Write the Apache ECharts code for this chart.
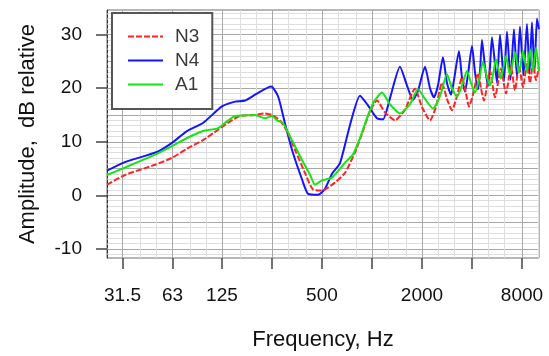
<!DOCTYPE html>
<html>
<head>
<meta charset="utf-8">
<script src="https://cdn.jsdelivr.net/npm/echarts@6/dist/echarts.min.js"></script>
<style>
  html, body { margin: 0; padding: 0; background: #fff; }
  #chart { width: 549px; height: 356px; }
</style>
</head>
<body>
<div id="chart"></div>
<script>
// frequency (Hz) and amplitude (dB relative)
const freqN3 = [25.4, 32.6, 49.4, 62.5, 77, 96, 118, 140, 160, 197, 227, 250, 279, 308, 344, 395, 441, 500, 599, 688, 790, 871, 973, 1072, 1197, 1375, 1580, 1815, 2000, 2235, 2428, 2639, 2828, 3031, 3249, 3482, 3681, 3837, 4112, 4347, 4531, 4724, 5134, 5502, 5979, 6409, 6869, 7260, 7674, 8112, 8574, 8938, 9318, 9714, 10126];
const ampN3 = [2.0, 3.8, 5.7, 7.0, 8.7, 10.3, 12.2, 13.8, 14.8, 15.0, 15.3, 15.0, 14.0, 12.0, 8.5, 4.2, 1.1, 0.9, 2.4, 4.2, 8.0, 11.5, 15.7, 17.7, 15.5, 14.0, 16.0, 19.9, 16.5, 14.0, 16.5, 21.0, 18.0, 15.9, 18.5, 22.0, 19.0, 16.6, 19.5, 22.8, 20.0, 17.7, 23.2, 18.3, 23.6, 19.0, 24.0, 19.6, 24.2, 20.2, 24.5, 21.0, 24.7, 21.5, 24.0];

const freqN4 = [25.4, 32.6, 50.8, 62.5, 77, 96, 125, 150, 172, 203, 247, 272, 299, 330, 379, 412, 473, 521, 574, 642, 737, 847, 946, 1072, 1165, 1283, 1474, 1625, 1765, 1892, 2085, 2235, 2362, 2497, 2676, 2828, 2990, 3117, 3340, 3482, 3630, 3784, 4000, 4170, 4347, 4469, 4595, 4790, 4993, 5134, 5278, 5502, 5657, 5897, 6233, 6498, 6821, 7160, 7464, 7781, 8168, 8574, 8877, 9190, 9514, 9849, 10126];
const ampN4 = [4.6, 6.2, 8.1, 9.8, 12.0, 13.5, 16.6, 17.5, 17.7, 19.0, 20.3, 18.5, 13.5, 8.5, 3.0, 0.3, 0.1, 1.2, 4.0, 6.0, 13.1, 18.6, 16.8, 14.4, 14.2, 18.1, 24.0, 20.5, 17.8, 19.5, 24.0, 20.0, 18.3, 20.5, 25.8, 21.0, 18.8, 21.5, 26.9, 22.0, 19.4, 22.5, 27.9, 23.0, 19.8, 23.0, 29.0, 24.0, 20.4, 24.0, 29.5, 24.5, 21.0, 30.0, 21.3, 30.6, 21.6, 31.0, 22.0, 31.5, 22.4, 32.0, 22.7, 32.3, 23.0, 33.0, 31.0];

const freqA1 = [25.4, 32.6, 49.4, 62.5, 77, 96, 118, 130, 150, 172, 197, 227, 250, 268, 291, 330, 379, 423, 454, 500, 574, 688, 768, 847, 933, 1028, 1149, 1283, 1474, 1693, 1892, 2085, 2329, 2567, 2828, 3031, 3249, 3482, 3732, 3945, 4170, 4408, 4659, 4925, 5134, 5352, 5579, 5816, 5979, 6409, 6774, 7260, 7674, 8112, 8574, 8938, 9318, 9714, 10126];
const ampA1 = [3.8, 5.2, 7.6, 9.2, 10.7, 12.0, 12.5, 13.5, 14.8, 14.9, 15.0, 14.4, 14.8, 14.0, 13.5, 10.3, 6.6, 3.9, 2.0, 2.8, 3.3, 6.1, 7.6, 10.7, 14.4, 17.5, 19.2, 17.0, 15.3, 17.0, 19.8, 18.0, 16.2, 18.5, 22.6, 20.0, 18.4, 20.5, 23.2, 21.0, 19.2, 21.5, 24.9, 22.0, 20.5, 22.5, 25.4, 23.0, 21.8, 26.0, 22.5, 26.7, 22.8, 27.0, 23.0, 27.3, 23.2, 27.6, 23.2];

// axis ticks
const xTickFreqs = [31.5, 63, 125, 250, 500, 1000, 2000, 4000, 8000];
const xLabelFreqs = [31.5, 63, 125, 500, 2000, 8000];
const xThirdOctaves = [31.5, 40, 50, 63, 80, 100, 125, 160, 200, 250, 315, 400, 500, 630, 800, 1000, 1250, 1600, 2000, 2500, 3150, 4000, 5000, 6300, 8000, 10000];
const yTicks = [-10, 0, 10, 20, 30];
const yFives = [-10, -5, 0, 5, 10, 15, 20, 25, 30];
const yOnes = [];
for (let v = -11; v <= 34; v++) yOnes.push(v);

const xMin = Math.log2(25.4);
const xMax = Math.log2(10130);
const yMin = -11.7;
const yMax = 34.6;

const font = "Liberation Sans";
const colN3 = "#ff2424";
const colN4 = "#1414ff";
const colA1 = "#14e614";
const toPts = (fs, as) => fs.map((f, i) => [Math.log2(f), as[i]]);

const hiddenX = (values, color) => ({
  type: "value", min: xMin, max: xMax, position: "bottom",
  axisLine: { show: false, onZero: false },
  axisTick: { show: false, customValues: values.map(Math.log2) },
  axisLabel: { show: false },
  splitLine: { show: true, lineStyle: { color: color, width: 1 } },
});
const hiddenY = (values, color) => ({
  type: "value", min: yMin, max: yMax, position: "left",
  axisLine: { show: false, onZero: false },
  axisTick: { show: false, customValues: values },
  axisLabel: { show: false },
  splitLine: { show: true, lineStyle: { color: color, width: 1 } },
});

const chart = echarts.init(document.getElementById("chart"), null, { renderer: "canvas" });

const option = {
  animation: false,
  backgroundColor: "#fff",
  grid: {
    left: 107, right: 10, top: 10, bottom: 95,
    show: true, borderColor: "#6e6e6e", borderWidth: 1,
  },
  legend: {
    left: 112, top: 13,
    orient: "vertical",
    padding: [14, 13, 15, 15],
    itemWidth: 35, itemHeight: 18, itemGap: 5,
    backgroundColor: "#fff",
    borderColor: "#555", borderWidth: 2,
    itemStyle: { opacity: 0 },
    lineStyle: { width: 2 },
    textStyle: { fontFamily: font, fontSize: 19, lineHeight: 18, color: "#3a3a3a", padding: [0, 0, 0, 7] },
    data: ["N3", "N4", "A1"],
  },
  xAxis: [
    hiddenX(xThirdOctaves, "#dedede"),
    hiddenX(xTickFreqs, "#a8a8a8"),
    {
      type: "value", min: xMin, max: xMax, position: "bottom",
      name: "Frequency, Hz",
      nameLocation: "middle", nameGap: 71,
      nameTextStyle: { fontFamily: font, fontSize: 22, color: "#111" },
      axisLine: { show: false, onZero: false },
      axisTick: {
        show: true, inside: false, length: 11,
        customValues: xTickFreqs.map(Math.log2),
        lineStyle: { color: "#444", width: 1.5 },
      },
      axisLabel: {
        customValues: xLabelFreqs.map(Math.log2),
        margin: 28,
        fontFamily: font, fontSize: 19, color: "#111",
        formatter: (v) => {
          const f = Math.pow(2, v);
          let best = xLabelFreqs[0];
          xLabelFreqs.forEach((c) => { if (Math.abs(c - f) < Math.abs(best - f)) best = c; });
          return String(best);
        },
      },
      splitLine: { show: false },
    },
  ],
  yAxis: [
    hiddenY(yOnes, "#dedede"),
    hiddenY(yFives, "#a8a8a8"),
    {
      type: "value", min: yMin, max: yMax, position: "left",
      name: "Amplitude,  dB relative",
      nameLocation: "middle", nameGap: 68, nameRotate: 90,
      nameTextStyle: { fontFamily: font, fontSize: 22, color: "#111" },
      axisLine: { show: true, onZero: false, lineStyle: { color: "#333", width: 1, type: [3, 2] } },
      axisTick: {
        show: true, inside: false, length: 11,
        customValues: yTicks,
        lineStyle: { color: "#444", width: 1.5 },
      },
      axisLabel: {
        customValues: yTicks,
        margin: 25,
        fontFamily: font, fontSize: 19, color: "#111",
      },
      splitLine: { show: false },
    },
  ],
  series: [
    {
      name: "N3", type: "line", xAxisIndex: 2, yAxisIndex: 2,
      data: toPts(freqN3, ampN3),
      symbol: "none", smooth: 0.2, z: 3,
      lineStyle: { color: colN3, width: 2, type: [6, 2] },
      itemStyle: { color: colN3 },
    },
    {
      name: "N4", type: "line", xAxisIndex: 2, yAxisIndex: 2,
      data: toPts(freqN4, ampN4),
      symbol: "none", smooth: 0.2, z: 2,
      lineStyle: { color: colN4, width: 2 },
      itemStyle: { color: colN4 },
    },
    {
      name: "A1", type: "line", xAxisIndex: 2, yAxisIndex: 2,
      data: toPts(freqA1, ampA1),
      symbol: "none", smooth: 0.2, z: 4,
      lineStyle: { color: colA1, width: 2 },
      itemStyle: { color: colA1 },
    },
    // solid stand-in placed last so the legend key for N3 is a plain line
    {
      name: "N3", type: "line", xAxisIndex: 2, yAxisIndex: 2,
      data: [],
      symbol: "none",
      lineStyle: { color: colN3, width: 2, type: "solid" },
      itemStyle: { color: colN3 },
    },
  ],
};

chart.setOption(option);
</script>
</body>
</html>
